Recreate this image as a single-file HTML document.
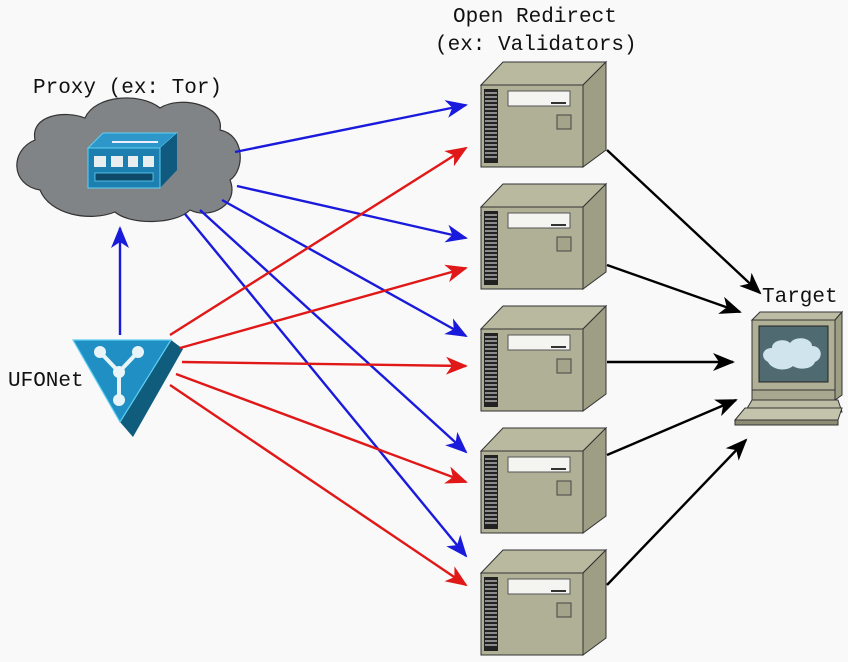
<!DOCTYPE html>
<html><head><meta charset="utf-8"><style>
html,body{margin:0;padding:0;background:#f9f9f9}
svg{display:block}
text{font-family:"Liberation Mono",monospace;font-size:21px;fill:#111}
</style></head><body>
<svg width="848" height="662" viewBox="0 0 848 662" xmlns="http://www.w3.org/2000/svg">
<defs>
<marker id="ab" markerWidth="22" markerHeight="18" refX="20" refY="9" orient="auto" markerUnits="userSpaceOnUse" viewBox="0 0 22 18"><path d="M0,0 L22,9 L0,18 L6,9 z" fill="#1a1adc"/></marker>
<marker id="ar" markerWidth="22" markerHeight="18" refX="20" refY="9" orient="auto" markerUnits="userSpaceOnUse" viewBox="0 0 22 18"><path d="M0,0 L22,9 L0,18 L6,9 z" fill="#e01818"/></marker>
<marker id="ak" markerWidth="22" markerHeight="18" refX="20" refY="9" orient="auto" markerUnits="userSpaceOnUse" viewBox="0 0 22 18"><path d="M0,0 L22,9 L0,18 L6,9 z" fill="#000"/></marker>
<g id="srv">
<path d="M487,0 L590,0 L583,8 L481,8 z" fill="#8c8c74" stroke="#333" stroke-width="1"/>
<path d="M481,0 L503,-23 L606,-23 L583,0 z" fill="#b9b9a0" stroke="#333" stroke-width="1"/>
<path d="M583,0 L606,-23 L606,65 L583,82 z" fill="#9e9e84" stroke="#333" stroke-width="1"/>
<rect x="481" y="0" width="102" height="82" fill="#b0b096" stroke="#333" stroke-width="1"/>
<rect x="484" y="4" width="14" height="74" fill="#222"/>
<g stroke="#ccc" stroke-width="1.2"><path d="M485,8H497M485,12H497M485,16H497M485,20H497M485,24H497M485,28H497M485,32H497M485,36H497M485,40H497M485,44H497M485,48H497M485,52H497M485,56H497M485,60H497M485,64H497M485,68H497M485,72H497"/></g>
<rect x="508" y="6" width="62" height="15" fill="#f4f4f0" stroke="#555" stroke-width="1"/>
<rect x="551" y="17" width="15" height="2" fill="#333"/>
<rect x="557" y="30" width="14" height="14" fill="#a4a48a" stroke="#444" stroke-width="1"/>
</g>
</defs>
<use href="#srv" transform="translate(0,85)"/>
<use href="#srv" transform="translate(0,207)"/>
<use href="#srv" transform="translate(0,329)"/>
<use href="#srv" transform="translate(0,451)"/>
<use href="#srv" transform="translate(0,573)"/>

<text x="453" y="22">Open Redirect</text>
<text x="435" y="50">(ex: Validators)</text>
<text x="33" y="93">Proxy (ex: Tor)</text>
<text x="8" y="386">UFONet</text>
<text x="762" y="302">Target</text>

<!-- cloud -->
<path d="M40,190 C10,185 10,150 35,140 C30,115 65,110 85,118 C95,95 140,92 160,108 C180,95 225,105 220,130 C245,135 245,170 230,180 C240,205 210,220 190,210 C175,225 130,225 115,212 C90,222 50,215 40,190 z" fill="#808486" stroke="#333" stroke-width="1.2"/>
<path d="M88,148 L103,133 L177,133 L177,170 L160,188 L88,188 z" fill="#1d7fb0"/>
<path d="M88,148 L103,133 L177,133 L160,148 z" fill="#2c97c8" stroke="#5fd0f5" stroke-width="1"/>
<path d="M160,148 L177,133 L177,170 L160,188 z" fill="#105a80"/>
<rect x="88" y="148" width="72" height="40" fill="#1d7fb0" stroke="#5fd0f5" stroke-width="1"/>
<g fill="#e8eef0"><rect x="94" y="156" width="12" height="11"/><rect x="111" y="156" width="12" height="11"/><rect x="128" y="156" width="10" height="11"/><rect x="143" y="156" width="11" height="11"/></g>
<rect x="95" y="173" width="58" height="8" fill="#0d4a6a" stroke="#5fd0f5" stroke-width="0.8"/>
<path d="M112,142 L158,142" stroke="#eef" stroke-width="2"/>

<!-- ufonet -->
<path d="M171,340 L183,349 L133,437 L120,422 z" fill="#0f5c7c"/>
<path d="M73,340 L171,340 L120,422 z" fill="#2090c4" stroke="#5fd0f5" stroke-width="1.2"/>
<g stroke="#e8f4f8" stroke-width="4" fill="none"><path d="M100,352 L119,372 L138,352 M119,372 L119,400"/></g>
<g fill="#e8f4f8"><circle cx="100" cy="352" r="6"/><circle cx="138" cy="352" r="6"/><circle cx="119" cy="372" r="6"/><circle cx="119" cy="400" r="6"/></g>

<!-- target computer -->
<path d="M752,320 L760,312 L842,312 L835,320 z" fill="#bcbca4" stroke="#333"/>
<path d="M835,320 L842,312 L842,395 L835,400 z" fill="#9e9e84" stroke="#333"/>
<rect x="752" y="320" width="83" height="70" fill="#b0b096" stroke="#333"/>
<rect x="759" y="326" width="69" height="56" fill="#4f6a70" stroke="#222"/>
<path d="M768,362 C760,358 762,348 772,348 C772,340 785,338 790,343 C796,335 812,338 812,346 C822,346 824,358 815,362 C812,370 798,370 793,366 C786,372 772,370 768,362 z" fill="#d0e4ee"/>
<rect x="752" y="390" width="83" height="10" fill="#a8a890" stroke="#333"/>
<path d="M745,412 L752,400 L838,400 L842,412 z" fill="#bcbca4" stroke="#333"/>
<path d="M735,420 L745,408 L842,408 L838,420 z" fill="#c4c4ac" stroke="#333"/>
<rect x="735" y="420" width="103" height="5" fill="#8c8c74" stroke="#333"/>

<!-- blue -->
<g stroke="#1a1adc" stroke-width="2.4" fill="none" marker-end="url(#ab)">
<line x1="120" y1="335" x2="120" y2="228"/>
<line x1="235" y1="152" x2="466" y2="105"/>
<line x1="237" y1="186" x2="466" y2="238"/>
<line x1="222" y1="200" x2="466" y2="336"/>
<line x1="200" y1="210" x2="466" y2="452"/>
<line x1="185" y1="214" x2="466" y2="556"/>
</g>
<!-- red -->
<g stroke="#e01818" stroke-width="2.4" fill="none" marker-end="url(#ar)">
<line x1="170" y1="335" x2="466" y2="148"/>
<line x1="180" y1="348" x2="466" y2="268"/>
<line x1="182" y1="362" x2="466" y2="366"/>
<line x1="176" y1="374" x2="466" y2="482"/>
<line x1="170" y1="385" x2="466" y2="585"/>
</g>
<!-- black -->
<g stroke="#000" stroke-width="2.4" fill="none" marker-end="url(#ak)">
<line x1="607" y1="150" x2="760" y2="293"/>
<line x1="607" y1="265" x2="740" y2="312"/>
<line x1="607" y1="362" x2="733" y2="362"/>
<line x1="607" y1="455" x2="736" y2="400"/>
<line x1="607" y1="585" x2="746" y2="440"/>
</g>
</svg>
</body></html>
